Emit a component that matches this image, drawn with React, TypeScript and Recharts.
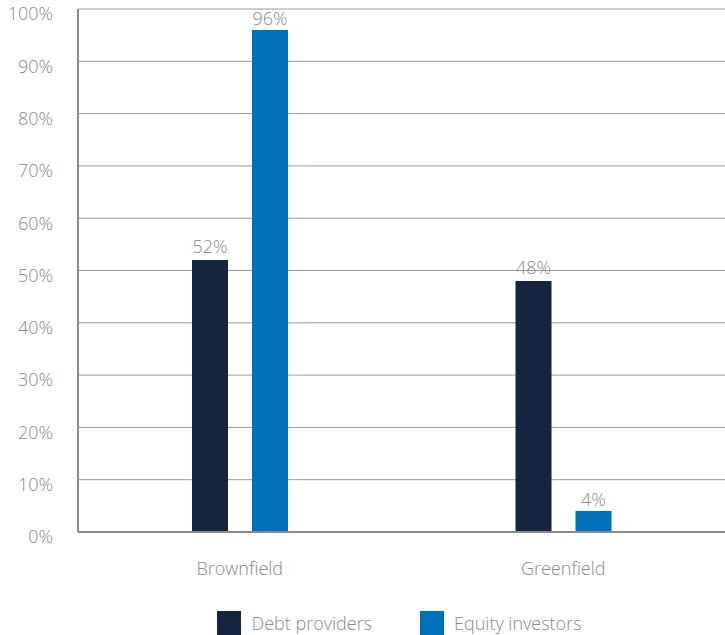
import { Bar, BarChart, CartesianGrid, LabelList, Legend, XAxis, YAxis } from "recharts";

const categories = ["Brownfield", "Greenfield"];
const debtProviders = [52, 48];
const equityInvestors = [96, 4];
const yTicks = [0, 10, 20, 30, 40, 50, 60, 70, 80, 90, 100];

const DEBT = "#16253f";
const EQUITY = "#0070b8";
const TEXT = "#8a8a8a";
const FONT = "'Open Sans', sans-serif";

const data = categories.map((name, i) => ({
  name,
  debt: debtProviders[i],
  equity: equityInvestors[i],
}));

const legendItems = [
  { label: "Debt providers", color: DEBT },
  { label: "Equity investors", color: EQUITY },
];

function LegendBox() {
  return (
    <div
      style={{
        display: "flex",
        justifyContent: "center",
        paddingLeft: 74,
        gap: 48,
        fontFamily: FONT,
        fontWeight: 300,
        fontSize: 18,
        color: TEXT,
        height: 24,
        alignItems: "center",
      }}
    >
      {legendItems.map((it) => (
        <div key={it.label} style={{ display: "flex", alignItems: "center", gap: 10 }}>
          <span style={{ width: 24, height: 24, background: it.color, display: "inline-block" }} />
          <span>{it.label}</span>
        </div>
      ))}
    </div>
  );
}

const labelStyle = { fontFamily: FONT, fontWeight: 300, fontSize: 18, fill: TEXT };

export default function App() {
  return (
    <div style={{ position: "absolute", left: 0, top: 0 }}>
      <BarChart
        width={725}
        height={635}
        data={data}
        margin={{ top: 9, right: 0, bottom: 0, left: 0 }}
        barSize={36}
        barGap={24}
      >
        <CartesianGrid vertical={false} stroke="#9a9a9a" strokeWidth={1} />
        <XAxis
          dataKey="name"
          height={79}
          tickLine={false}
          axisLine={{ stroke: "#8a8a8a", strokeWidth: 2 }}
          tickMargin={24}
          tick={labelStyle}
        />
        <YAxis
          width={78}
          domain={[0, 100]}
          ticks={yTicks}
          interval={0}
          tickFormatter={(v: number) => `${v}%`}
          tickLine={false}
          tickMargin={19}
          axisLine={{ stroke: "#8a8a8a", strokeWidth: 2 }}
          tick={{ ...labelStyle, dy: 5 }}
        />
        <Legend verticalAlign="bottom" content={() => <LegendBox />} />
        <Bar dataKey="debt" fill={DEBT} isAnimationActive={false}>
          <LabelList
            dataKey="debt"
            position="top"
            offset={7}
            formatter={(v: number) => `${v}%`}
            style={labelStyle}
          />
        </Bar>
        <Bar dataKey="equity" fill={EQUITY} isAnimationActive={false}>
          <LabelList
            dataKey="equity"
            position="top"
            offset={5}
            formatter={(v: number) => `${v}%`}
            style={labelStyle}
          />
        </Bar>
      </BarChart>
    </div>
  );
}
